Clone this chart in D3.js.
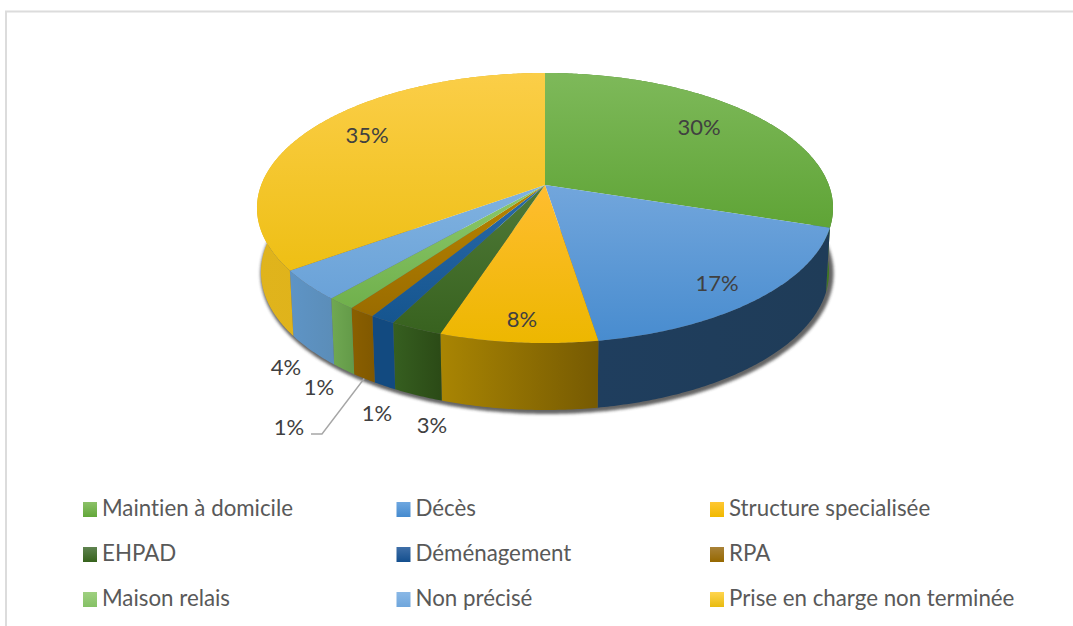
<!DOCTYPE html>
<html>
<head>
  <meta charset="utf-8">
  <title>Camembert</title>
  <script src="https://d3js.org/d3.v7.min.js"></script>
  <style>
    html, body { margin: 0; padding: 0; background: #fff; overflow: hidden; }
    text { font-family: Lato, "Open Sans", sans-serif; font-variant-ligatures: none; }
  </style>
</head>

<body>
<div id="chart"></div>
<script type="text/javascript">
  // data
  let categories = ['Maintien à domicile', 'Décès', 'Structure specialisée',
    'EHPAD', 'Déménagement', 'RPA',
    'Maison relais', 'Non précisé', 'Prise en charge non terminée'];
  let shares = [30, 17.5, 7.5, 2.5, 1.2, 1.3, 1.4, 3.6, 35];
  let shareLabels = ['30%', '17%', '8%', '3%', '1%', '1%', '1%', '4%', '35%'];

  // colours: top face light/dark, side wall left/right, legend light/dark
  let topColors = [['#7eb95a', '#5fa436'], ['#72a6dc', '#488ccf'], ['#ffbd30', '#edb700'],
    ['#4f7a38', '#38621f'], ['#2a6aa8', '#15558f'], ['#b88400', '#9a6c00'],
    ['#8cc96c', '#70b04c'], ['#80b2e0', '#6aa2d8'], ['#fbce48', '#eebf14']];
  let sideColors = [['#4d8a2a', '#3f7522'], ['#1f3e5e', '#1f3c58'], ['#a98503', '#765a02'],
    ['#365f20', '#2b4a16'], ['#124a80', '#124a80'], ['#8a5f00', '#805800'],
    ['#70a852', '#639a48'], ['#5e94c6', '#5b8db8'], ['#e0b41c', '#dcae16']];
  let legendColors = [['#8cc168', '#62a739'], ['#6ea7e0', '#458ace'], ['#ffc733', '#f0b900'],
    ['#5f8350', '#37631c'], ['#3f6fa8', '#144f8e'], ['#a98238', '#966800'],
    ['#9fd080', '#85c166'], ['#8ab8e6', '#6fa6dc'], ['#ffd54f', '#e8bb10']];

  let width = 1073, height = 626;

  let svg = d3.select('#chart')
      .append('svg')
        .attr('width', width)
        .attr('height', height);

  // circle seen in perspective: theta 0 is at the back, clockwise
  let tilt = 0.1704;
  function project(theta, face) {
    let d = 1 + tilt * Math.cos(theta);
    return [
      face.cx + face.r * Math.sin(theta) / d,
      face.cy - face.h * Math.cos(theta) / d
    ];
  }
  let topFace = {cx: 545, cy: 185, r: 283.8, h: 131.1};
  let baseFace = {cx: 545, cy: 248.5, r: 279.9, h: 134};

  function arcPoints(a0, a1, face) {
    let n = Math.max(2, Math.ceil((a1 - a0) / 0.01));
    return d3.range(n + 1).map(i => project(a0 + (a1 - a0) * i / n, face));
  }

  let line = d3.line();
  let pie = d3.pie().sort(null).value(d => d);
  let slices = pie(shares);

  let defs = svg.append('defs');
  function gradient(id, colors, horizontal) {
    let g = defs.append('linearGradient').attr('id', id)
      .attr('x1', 0).attr('y1', 0)
      .attr('x2', horizontal ? 1 : 0).attr('y2', horizontal ? 0 : 1);
    g.append('stop').attr('offset', 0).attr('stop-color', colors[0]);
    g.append('stop').attr('offset', 1).attr('stop-color', colors[1]);
  }
  topColors.forEach((c, i) => gradient('top' + i, c, false));
  sideColors.forEach((c, i) => gradient('side' + i, c, true));
  legendColors.forEach((c, i) => gradient('leg' + i, c, false));

  let blur = defs.append('filter').attr('id', 'soft')
    .attr('x', '-5%').attr('y', '-5%').attr('width', '110%').attr('height', '110%');
  blur.append('feGaussianBlur').attr('stdDeviation', 1.6);

  // cadre
  svg.append('path')
     .attr('d', `M6,${height}V11.5H${width}`)
     .attr('fill', 'none')
     .attr('stroke', '#dcdcdc')
     .attr('stroke-width', 2);

  // ombre sous le camembert
  svg.append('path')
     .attr('d', line(arcPoints(Math.PI * 0.45, Math.PI * 1.55, baseFace)))
     .attr('transform', 'translate(2,1.5)')
     .attr('fill', '#333')
     .attr('stroke', '#333')
     .attr('stroke-width', 5)
     .attr('filter', 'url(#soft)')
     .attr('opacity', 0.75);

  // parois
  svg.append('g').selectAll('path')
     .data(slices)
     .join('path')
     .attr('d', d => line(arcPoints(d.startAngle, d.endAngle, topFace)
        .concat(arcPoints(d.startAngle, d.endAngle, baseFace).reverse())) + 'Z')
     .attr('fill', (d, i) => `url(#side${i})`);

  // dessus
  svg.append('g').selectAll('path')
     .data(slices)
     .join('path')
     .attr('d', d => line([[topFace.cx, topFace.cy]]
        .concat(arcPoints(d.startAngle, d.endAngle, topFace))) + 'Z')
     .attr('fill', (d, i) => `url(#top${i})`);

  // leader line of the RPA label
  let rpa = slices[5];
  let tip = project((rpa.startAngle + rpa.endAngle) / 2, baseFace);
  let labelPos = [[699, 127], [717, 283], [522, 319], [432, 425], [377, 413],
                  [289, 427], [319, 387], [286, 367], [367, 135]];
  svg.append('path')
     .attr('d', line([[labelPos[5][0] + 22, labelPos[5][1] + 7], [labelPos[5][0] + 33, labelPos[5][1] + 7], tip]))
     .attr('fill', 'none')
     .attr('stroke', '#a6a6a6')
     .attr('stroke-width', 1.4);

  svg.append('g').selectAll('text')
     .data(shareLabels)
     .join('text')
     .attr('x', (d, i) => labelPos[i][0])
     .attr('y', (d, i) => labelPos[i][1])
     .attr('dy', '0.35em')
     .attr('text-anchor', 'middle')
     .attr('font-size', '22px')
     .attr('fill', '#404040')
     .text(d => d);

  // legende
  let legendX = d3.scalePoint().domain([0, 1, 2]).range([83, 710]);
  let legendY = d3.scalePoint().domain([0, 1, 2]).range([502, 592]);
  let legend = svg.append('g').selectAll('g')
     .data(categories)
     .join('g')
     .attr('transform', (d, i) => `translate(${legendX(i % 3)},${legendY(Math.floor(i / 3))})`);
  legend.append('rect')
     .attr('width', 14)
     .attr('height', 15)
     .attr('fill', (d, i) => `url(#leg${i})`);
  legend.append('text')
     .attr('x', 19)
     .attr('y', 14)
     .attr('font-size', '22.3px')
     .attr('fill', '#595959')
     .text(d => d);
</script>
</body>
</html>
